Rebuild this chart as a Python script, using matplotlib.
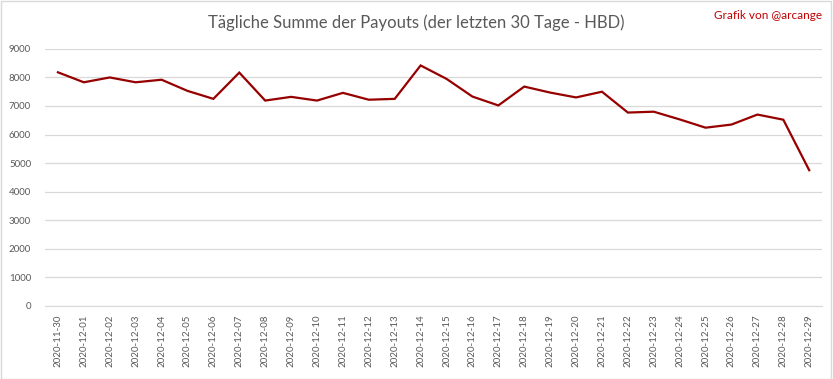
import matplotlib.pyplot as plt

plt.rcParams['font.family'] = ['Lato', 'DejaVu Sans']

# --------------------------
# Daten
# --------------------------
dates = ["2020-11-30"] + ["2020-12-%02d" % d for d in range(1, 30)]
payouts = [8180, 7830, 8000, 7830, 7920, 7530, 7250, 8170, 7190, 7320,
           7190, 7460, 7220, 7250, 8420, 7950, 7330, 7020, 7680, 7470,
           7300, 7500, 6770, 6800, 6530, 6240, 6350, 6700, 6520, 4750]
yticks = list(range(0, 9001, 1000))

# --------------------------
# Diagramm
# --------------------------
fig = plt.figure(figsize=(8.33, 3.79), dpi=100)
ax = fig.add_axes([0.054, 0.193, 0.933, 0.678])

x = list(range(len(dates)))
ax.plot(x, payouts, color="#960000", linewidth=1.6, solid_joinstyle="miter")

ax.set_xlim(-0.5, len(dates) - 0.5)
ax.set_ylim(0, 9000)
ax.set_yticks(yticks)
ax.set_xticks(x)
ax.set_xticklabels(dates, rotation=90)
ax.tick_params(axis="both", length=0, labelsize=7, labelcolor="#595959")
ax.tick_params(axis="y", pad=10)
ax.tick_params(axis="x", pad=6)
ax.grid(axis="y", color="#d9d9d9", linewidth=0.9)
ax.set_axisbelow(True)
for side in ["top", "right", "left"]:
    ax.spines[side].set_visible(False)
ax.spines["bottom"].set_color("#d9d9d9")

fig.text(0.5, 0.94, "Tägliche Summe der Payouts (der letzten 30 Tage - HBD)",
         ha="center", va="center", fontsize=12, color="#595959")
fig.text(0.987, 0.958, "Grafik von @arcange", ha="right", va="center",
         fontsize=8.5, color="#c00000")

# Rahmen
fig.patches.append(plt.Rectangle((0.001, 0.001), 0.997, 0.996, transform=fig.transFigure,
                                 fill=False, edgecolor="#d9d9d9", linewidth=1))

fig.savefig("out.png", dpi=100)
